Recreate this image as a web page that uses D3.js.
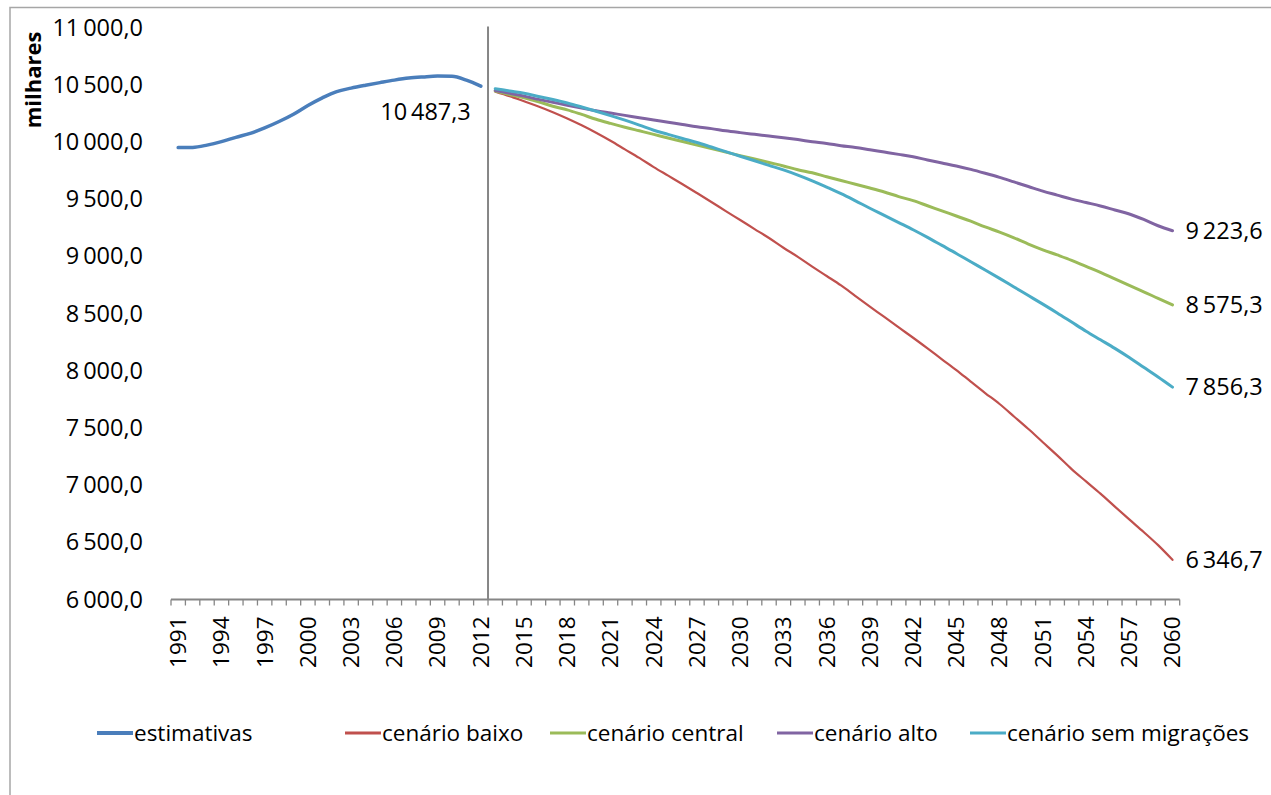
<!DOCTYPE html>
<html>
<head>
<meta charset="utf-8">
<script src="https://cdn.jsdelivr.net/npm/d3@7/dist/d3.min.js"></script>
<style>
  html, body { margin: 0; padding: 0; background: #fff; }
  svg { display: block; font-family: "Open Sans", sans-serif; }
</style>
</head>
<body>
<svg id="chart" width="1271" height="795"></svg>
<script>
// ---------------- DATA ----------------
const yearsEst = d3.range(1991, 2013);           // 1991..2012
const yearsProj = d3.range(2013, 2061);          // 2013..2060
const allYears = d3.range(1991, 2061);
const xTickYears = d3.range(1991, 2061, 3);
const yTicks = [6000, 6500, 7000, 7500, 8000, 8500, 9000, 9500, 10000, 10500, 11000];

const estimativas = [9950, 9952, 9972, 10002, 10040, 10075, 10122, 10178, 10242, 10318, 10385, 10440,
  10470, 10495, 10518, 10540, 10558, 10568, 10575, 10573, 10540, 10487.3];

const cenarioBaixo = [10440, 10400, 10355, 10310, 10260, 10205, 10145, 10080, 10010, 9935, 9860, 9780,
  9705, 9630, 9553, 9475, 9395, 9317, 9238, 9160, 9075, 8995, 8910, 8828,
  8745, 8652, 8560, 8470, 8378, 8288, 8195, 8100, 8006, 7905, 7805, 7709,
  7600, 7490, 7375, 7260, 7140, 7032, 6925, 6812, 6700, 6590, 6475, 6346.7];

const cenarioCentral = [10445, 10415, 10385, 10350, 10312, 10280, 10240, 10198, 10162, 10128, 10097, 10066,
  10034, 10003, 9972, 9942, 9911, 9880, 9850, 9820, 9790, 9757, 9730, 9695,
  9662, 9630, 9597, 9562, 9522, 9487, 9442, 9397, 9352, 9307, 9257, 9212,
  9162, 9107, 9057, 9012, 8965, 8912, 8860, 8802, 8745, 8690, 8632, 8575.3];

const cenarioAlto = [10450, 10425, 10400, 10372, 10346, 10320, 10295, 10272, 10252, 10232, 10212, 10192,
  10172, 10152, 10132, 10116, 10097, 10081, 10066, 10051, 10036, 10020, 10002, 9986,
  9967, 9951, 9931, 9911, 9891, 9870, 9842, 9816, 9790, 9760, 9726, 9690,
  9650, 9610, 9570, 9535, 9500, 9470, 9440, 9405, 9370, 9322, 9267, 9223.6];

const cenarioSemMigracoes = [10465, 10445, 10425, 10397, 10370, 10340, 10305, 10268, 10230, 10190, 10147, 10102,
  10066, 10030, 9995, 9955, 9915, 9875, 9835, 9795, 9755, 9710, 9660, 9605,
  9548, 9485, 9420, 9358, 9295, 9232, 9165, 9095, 9025, 8952, 8880, 8807,
  8732, 8657, 8582, 8505, 8425, 8345, 8270, 8195, 8115, 8030, 7945, 7856.3];

const seriesNames = ["estimativas", "cenário baixo", "cenário central", "cenário alto", "cenário sem migrações"];
const yAxisTitle = "milhares";

// ---------------- STYLE / LAYOUT ----------------
const colors = {
  "estimativas": "#4A7EBB",
  "cenário baixo": "#C0504D",
  "cenário central": "#9BBB59",
  "cenário alto": "#8064A2",
  "cenário sem migrações": "#4BACC6"
};
const widths = {
  "estimativas": 3.5,
  "cenário baixo": 2.2,
  "cenário central": 3,
  "cenário alto": 3,
  "cenário sem migrações": 3
};

d3.formatDefaultLocale({decimal: ",", thousands: "\u2009", grouping: [3], currency: ["", "€"]});
const fmt = d3.format(",.1f");

const svg = d3.select("#chart");
svg.append("rect").attr("width", 1271).attr("height", 795).attr("fill", "#fff");
// outer frame
svg.append("rect").attr("x", 10).attr("y", 7.5).attr("width", 1300).attr("height", 900)
  .attr("fill", "none").attr("stroke", "#A6A6A6").attr("stroke-width", 1.5);

const x = d3.scaleBand().domain(allYears).range([171, 1179.7]);
const xc = yr => x(yr) + x.bandwidth() / 2;
const y = d3.scaleLinear().domain([6000, 11000]).range([599.5, 27.5]);

// Y axis labels (no axis line)
const yAxis = d3.axisLeft(y).tickValues(yTicks).tickFormat(fmt).tickSize(0).tickPadding(0);
const gy = svg.append("g").attr("transform", "translate(143,0)").call(yAxis);
gy.select(".domain").remove();
gy.selectAll("text").attr("font-size", "23.5px").attr("fill", "#000").attr("font-family", "Open Sans");

// Y title
svg.append("text")
  .attr("transform", "translate(33,80) rotate(-90)")
  .attr("text-anchor", "middle").attr("dy", "0.35em")
  .attr("font-weight", "bold").attr("font-size", "22px")
  .text(yAxisTitle);

// X axis: line + ticks at category boundaries
const xAxisG = svg.append("g");
xAxisG.append("line")
  .attr("x1", x.range()[0]).attr("x2", x.range()[1])
  .attr("y1", y(6000)).attr("y2", y(6000))
  .attr("stroke", "#868686").attr("stroke-width", 2);
const boundaries = allYears.map(yr => x(yr)).concat([x.range()[1]]);
xAxisG.selectAll(".tk").data(boundaries).join("line")
  .attr("x1", d => d).attr("x2", d => d)
  .attr("y1", y(6000)).attr("y2", y(6000) + 6)
  .attr("stroke", "#868686").attr("stroke-width", 1.3);
xAxisG.selectAll(".xl").data(xTickYears).join("text")
  .attr("transform", d => `translate(${xc(d)},${y(6000) + 17}) rotate(-90)`)
  .attr("text-anchor", "end").attr("dy", "0.35em")
  .attr("font-size", "22.5px").attr("fill", "#000")
  .text(d => d);

// vertical separator line after 2012
svg.append("line")
  .attr("x1", x(2013)).attr("x2", x(2013))
  .attr("y1", y(11000) - 1).attr("y2", y(6000))
  .attr("stroke", "#868686").attr("stroke-width", 2);

// lines
const line = d3.line().x(d => xc(d[0])).y(d => y(d[1])).curve(d3.curveMonotoneX);
const projSeries = [
  ["cenário baixo", cenarioBaixo],
  ["cenário central", cenarioCentral],
  ["cenário alto", cenarioAlto],
  ["cenário sem migrações", cenarioSemMigracoes]
];
svg.append("path")
  .datum(yearsEst.map((yr, i) => [yr, estimativas[i]]))
  .attr("d", line).attr("fill", "none")
  .attr("stroke", colors["estimativas"]).attr("stroke-width", widths["estimativas"])
  .attr("stroke-linejoin", "round").attr("stroke-linecap", "round");
projSeries.forEach(([name, vals]) => {
  svg.append("path")
    .datum(yearsProj.map((yr, i) => [yr, vals[i]]))
    .attr("d", line).attr("fill", "none")
    .attr("stroke", colors[name]).attr("stroke-width", widths[name])
    .attr("stroke-linejoin", "round").attr("stroke-linecap", "round");
});

// data labels
const lastEst = estimativas[estimativas.length - 1];
svg.append("text")
  .attr("x", xc(2012) - 10).attr("y", y(lastEst) + 26)
  .attr("text-anchor", "end").attr("dy", "0.35em")
  .attr("font-size", "23.5px").text(fmt(lastEst));
projSeries.forEach(([name, vals]) => {
  const v = vals[vals.length - 1];
  svg.append("text")
    .attr("x", xc(2060) + 13).attr("y", y(v))
    .attr("dy", "0.35em").attr("font-size", "23.5px")
    .text(fmt(v));
});

// legend
const legendX = [97, 345, 550, 777, 970];
const legendY = 733;
seriesNames.forEach((name, i) => {
  const g = svg.append("g").attr("transform", `translate(${legendX[i]},${legendY})`);
  g.append("line").attr("x1", 0).attr("x2", 36).attr("y1", 0).attr("y2", 0)
    .attr("stroke", colors[name]).attr("stroke-width", name === "estimativas" ? 4 : 3.2);
  g.append("text").attr("x", 37).attr("dy", "0.35em")
    .attr("font-size", "22.5px").attr("fill", "#000")
    .text(name);
});
</script>
</body>
</html>
